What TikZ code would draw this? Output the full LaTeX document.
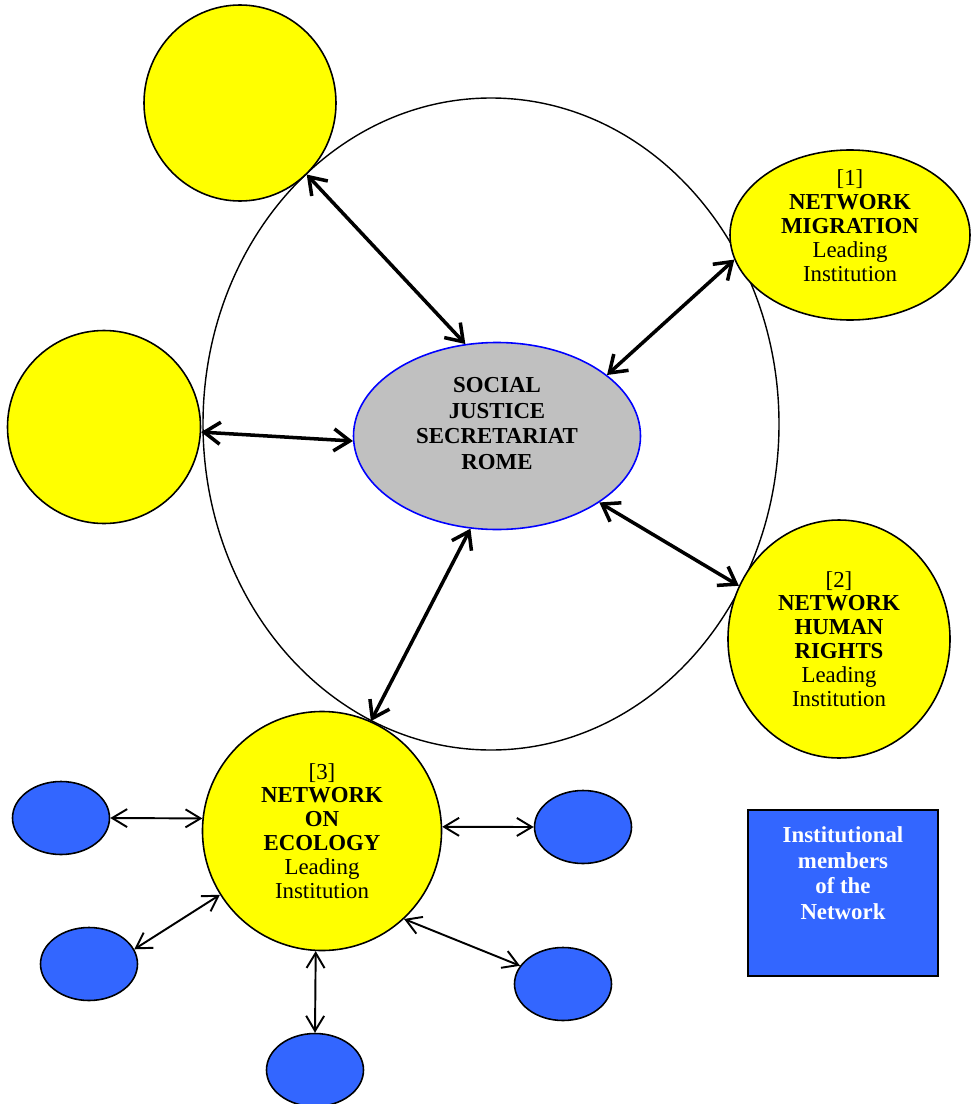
\documentclass[tikz,border=0pt]{standalone}
\usepackage{fontspec}
\setmainfont{Liberation Serif}
\usetikzlibrary{shapes.geometric,arrows.meta}
\definecolor{netyellow}{RGB}{255,255,0}
\definecolor{memberblue}{RGB}{51,102,255}
\definecolor{secgray}{RGB}{192,192,192}
\tikzset{
  network/.style={ellipse,draw,line width=0.9pt,fill=netyellow,inner sep=0pt,align=center,font=\fontsize{13}{13.6}\selectfont},
  member/.style={ellipse,draw,line width=0.9pt,fill=memberblue,inner sep=0pt,minimum width=1.94cm,minimum height=1.46cm},
  bigarrow/.style={line width=2pt,{Straight Barb[length=3.2mm,width=4.4mm]}-{Straight Barb[length=3.2mm,width=4.4mm]}},
  smallarrow/.style={line width=1.1pt,{Straight Barb[length=3mm,width=3.6mm]}-{Straight Barb[length=3mm,width=3.6mm]}}
}
\begin{document}
\begin{tikzpicture}
\useasboundingbox (0,0) rectangle (19.44,-22.08);
%\draw[step=1cm,gray,very thin] (0,0) grid (19.44,-22.08);
\node[ellipse,draw,line width=0.8pt,inner sep=0pt,minimum width=11.52cm,minimum height=13.04cm] (ring) at (9.82,-8.48) {};
\node[ellipse,draw=blue,line width=0.9pt,fill=secgray,inner sep=0pt,minimum width=5.74cm,minimum height=3.74cm,text depth=0.5cm,align=center,font=\bfseries\fontsize{13}{14.6}\selectfont] (secretariat) at (9.94,-8.72) {SOCIAL\\JUSTICE\\SECRETARIAT\\ROME};

%------------------------------------------------

\node[network,minimum width=3.84cm,minimum height=3.92cm] (topleft) at (4.80,-2.06) {};
\node[network,minimum width=3.86cm,minimum height=3.86cm] (left) at (2.08,-8.54) {};
\node[network,minimum width=4.80cm,minimum height=3.40cm,text height=58pt,text depth=5pt] (migration) at (17.00,-4.70) {[1]\\\textbf{NETWORK}\\\textbf{MIGRATION}\\Leading\\Institution};
\node[network,minimum width=4.44cm,minimum height=4.76cm] (rights) at (16.78,-12.78) {[2]\\\textbf{NETWORK}\\\textbf{HUMAN}\\\textbf{RIGHTS}\\Leading\\Institution};
\node[network,minimum width=4.78cm,minimum height=4.78cm] (ecology) at (6.44,-16.62) {[3]\\\textbf{NETWORK}\\\textbf{ON}\\\textbf{ECOLOGY}\\Leading\\Institution};

\draw[bigarrow] (topleft.-47) -- (secretariat.109);
\draw[bigarrow] (left.-3) -- (secretariat.182);
\draw[bigarrow] (migration.192) -- (secretariat.29);
\draw[bigarrow] (rights.152) -- (secretariat.-33);
\draw[bigarrow] (ecology.66) -- (secretariat.254);

%------------------------------------------------

\node[member] (mleft) at (1.22,-16.36) {};
\node[member] (mlowleft) at (1.78,-19.28) {};
\node[member] (mbottom) at (6.30,-21.40) {};
\node[member] (mright) at (11.66,-16.54) {};
\node[member] (mlowright) at (11.26,-19.68) {};

\draw[smallarrow] (mleft.0) -- (ecology.174);
\draw[smallarrow] (mlowleft.18) -- (ecology.212);
\draw[smallarrow] (mbottom.90) -- (ecology.267);
\draw[smallarrow] (mright.180) -- (ecology.2);
\draw[smallarrow] (mlowright.157) -- (ecology.-47);

\node[draw,line width=0.9pt,fill=memberblue,text=white,minimum width=3.80cm,minimum height=3.32cm,text depth=0.8cm,align=center,font=\bfseries\fontsize{13}{14.6}\selectfont] (legend) at (16.86,-17.86) {Institutional\\members\\of the\\Network};
\end{tikzpicture}
\end{document}
